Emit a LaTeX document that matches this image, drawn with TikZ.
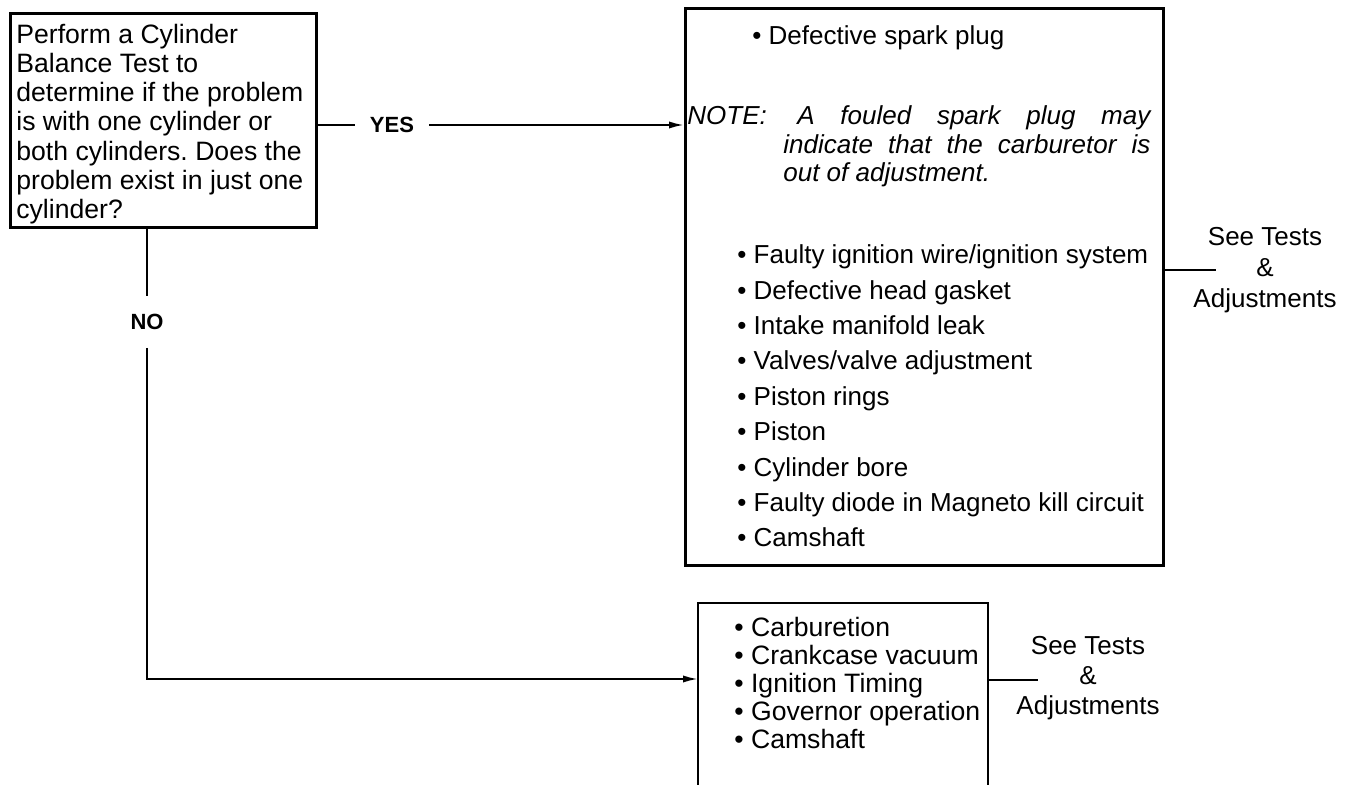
\documentclass[tikz,border=0pt]{standalone}
\usepackage{fontspec}
\setmainfont{Liberation Sans}
\frenchspacing
\usetikzlibrary{arrows.meta}
\begin{document}
\begin{tikzpicture}[x=0.5pt,y=-0.5pt,
  boxline/.style={line width=1.3pt},
  conn/.style={line width=1pt},
  arr/.style={conn,-{Latex[length=7.5pt,width=3.6pt]}},
  frame/.style={boxline,draw,inner sep=0pt,anchor=north west},
  ghost/.style={inner sep=0pt,anchor=north west},
  txt/.style={inner sep=0pt,anchor=base west,align=left,font=\fontsize{13}{14.6}\selectfont},
  lbl/.style={inner sep=0pt,font=\fontsize{11}{13}\selectfont\bfseries}]
\useasboundingbox (0,0) rectangle (1351,785);
\fill[white] (0,0) rectangle (1351,785);

% boxes
\node[frame,minimum width=153pt,minimum height=107pt] (q) at (9,12) {};
\node[frame,minimum width=239pt,minimum height=278.5pt] (b2) at (684,7) {};
\node[ghost,minimum width=144.5pt,minimum height=91pt] (b3) at (698,603) {};
\draw[boxline] (b3.south west) -- (b3.north west) -- (b3.north east) -- (b3.south east);

% question text (anchor = baseline of last line)
\node[txt,font=\fontsize{13.3}{14.6}\selectfont] (qt) at (16,218.5) {Perform a Cylinder\\Balance Test to\\determine if the problem\\is with one cylinder or\\both cylinders. Does the\\problem exist in just one\\cylinder?};

% YES branch
\node[lbl,minimum width=37pt,minimum height=10pt] (yes) at (392,125) {YES};
\draw[conn] (q.east |- yes.west) -- (yes.west);
\draw[arr] (yes.east) -- (b2.west |- yes.east);

% box 2 contents
\node[txt] (d1) at (752,45) {• Defective spark plug};
\node[txt,font=\fontsize{13}{14.6}\selectfont\itshape] (n1) at (687,125) {NOTE:};
\node[txt,font=\fontsize{13}{14.6}\selectfont\itshape] (n2) at (797,125) {\makebox[176.5pt][s]{A fouled spark plug may}};
\node[txt,font=\fontsize{13}{14.6}\selectfont\itshape] (n3) at (783,153.5) {\makebox[183.5pt][s]{indicate that the carburetor is}};
\node[txt,font=\fontsize{13}{14.6}\selectfont\itshape] (n4) at (783,182) {out of adjustment.};
\node[txt,font=\fontsize{13}{17.7}\selectfont] (l2) at (737,547) {• Faulty ignition wire/ignition system\\• Defective head gasket\\• Intake manifold leak\\• Valves/valve adjustment\\• Piston rings\\• Piston\\• Cylinder bore\\• Faulty diode in Magneto kill circuit\\• Camshaft};

% see tests 1
\coordinate (c1) at (1216,270);
\draw[conn] (b2.east |- c1) -- (c1);
\node[inner sep=0pt,anchor=base,align=center,font=\fontsize{13}{15.5}\selectfont] (s1) at (1265,308) {See Tests\\\&\\Adjustments};

% NO branch
\node[lbl,minimum width=20pt,minimum height=25.5pt] (no) at (147,322) {NO};
\draw[conn] (q.south -| no.north) -- (no.north);
\draw[arr] (no.south) |- ([yshift=-38pt]b3.north west);

% box 3 contents
\node[txt,font=\fontsize{13.3}{14.1}\selectfont] (l3) at (734,749) {• Carburetion\\• Crankcase vacuum\\• Ignition Timing\\• Governor operation\\• Camshaft};

% see tests 2
\coordinate (c2) at (1038,680);
\draw[conn] (b3.east |- c2) -- (c2);
\node[inner sep=0pt,anchor=base,align=center,font=\fontsize{13}{15}\selectfont] (s2) at (1088,715) {See Tests\\\&\\Adjustments};
\end{tikzpicture}
\end{document}
